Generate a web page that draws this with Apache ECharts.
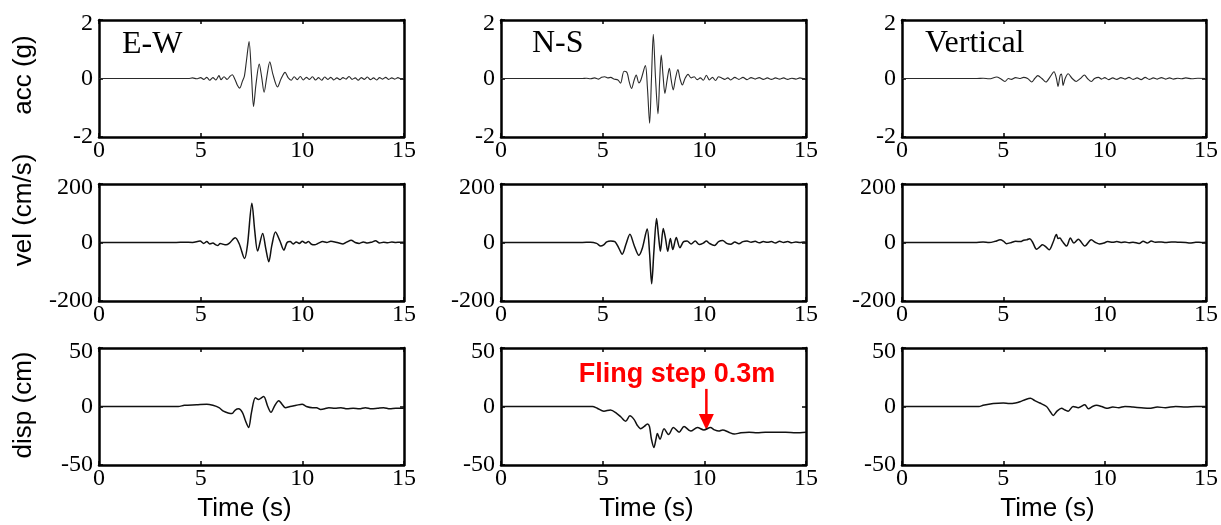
<!DOCTYPE html>
<html>
<head>
<meta charset="utf-8">
<title>Near-fault ground motion records</title>
<script src="https://cdn.jsdelivr.net/npm/echarts@6/dist/echarts.min.js"></script>
<style>
  html, body { margin: 0; padding: 0; background: #fff; }
  #chart { width: 1221px; height: 525px; }
</style>
</head>
<body>
<div id="chart"></div>
<script>
// Time axis ticks shared by every panel (s)
const timeTicks = [0, 5, 10, 15];

// Component names (columns) and quantity names (rows)
const components = ['E-W', 'N-S', 'Vertical'];
const quantities = ['acc (g)', 'vel (cm/s)', 'disp (cm)'];
const yRanges = [[-2, 2], [-200, 200], [-50, 50]];

// Acceleration records, [time (s), acc (g)]
const accEW = [[0,0],[4.4,0],[4.6,0.02],[4.8,-0.01],[5.0,0.03],[5.15,-0.03],[5.3,0.04],[5.45,-0.06],[5.6,0.03],[5.75,-0.05],[5.9,0.1],[6.0,-0.04],[6.15,0.06],[6.3,-0.03],[6.45,0.08],[6.55,0.13],[6.7,-0.05],[6.8,-0.22],[6.92,-0.33],[7.05,-0.1],[7.15,0.08],[7.25,0.6],[7.38,1.26],[7.5,0.1],[7.6,-0.96],[7.72,-0.2],[7.88,0.49],[8.0,0.05],[8.12,-0.47],[8.25,0.05],[8.4,0.57],[8.55,0.15],[8.78,-0.29],[8.95,-0.02],[9.15,0.21],[9.3,0.03],[9.45,-0.06],[9.6,0.06],[9.75,-0.04],[9.9,0.07],[10.05,-0.05],[10.2,0.04],[10.35,-0.03],[10.5,0.06],[10.65,-0.05],[10.8,0.03],[10.95,-0.06],[11.1,0.05],[11.25,-0.03],[11.4,0.04],[11.55,-0.05],[11.7,0.02],[11.85,-0.04],[12.0,0.03],[12.15,-0.02],[12.3,0.07],[12.45,-0.03],[12.6,0.02],[12.75,-0.06],[12.9,0.03],[13.05,-0.03],[13.2,0.05],[13.35,-0.04],[13.5,0.02],[13.65,-0.05],[13.8,0.03],[13.95,-0.02],[14.1,0.04],[14.25,-0.03],[14.4,0.02],[14.55,-0.02],[14.7,0.03],[14.85,-0.01],[15,0.01]];
const accNS = [[0,0],[4.0,0],[4.2,0.01],[4.4,-0.01],[4.6,0.02],[4.8,-0.02],[4.95,0.04],[5.1,0.06],[5.25,0.02],[5.4,0.04],[5.55,-0.02],[5.75,-0.05],[5.88,-0.16],[6.05,0.25],[6.2,0.2],[6.3,-0.1],[6.42,-0.34],[6.55,-0.05],[6.65,0.12],[6.78,-0.15],[6.88,-0.05],[7.1,0.44],[7.2,-0.3],[7.31,-1.53],[7.4,0.0],[7.49,1.51],[7.6,0.0],[7.72,-1.21],[7.8,-0.1],[7.88,0.8],[7.97,0.1],[8.06,-0.51],[8.17,-0.05],[8.28,0.35],[8.37,-0.05],[8.47,-0.39],[8.58,0.0],[8.7,0.31],[8.8,0.0],[8.92,-0.22],[9.05,0.0],[9.2,0.14],[9.35,0.02],[9.5,0.06],[9.65,-0.04],[9.8,0.02],[9.95,-0.06],[10.1,0.11],[10.25,-0.05],[10.4,0.04],[10.55,-0.07],[10.7,0.06],[10.85,0.02],[11.0,-0.03],[11.15,0.02],[11.3,-0.05],[11.5,0.04],[11.7,-0.03],[11.9,0.04],[12.1,-0.04],[12.3,0.03],[12.5,-0.02],[12.7,0.03],[12.9,-0.03],[13.1,0.02],[13.3,-0.03],[13.5,0.02],[13.7,-0.02],[13.9,0.02],[14.1,-0.03],[14.3,0.01],[14.5,-0.02],[14.7,0.02],[14.9,-0.01],[15,0.0]];
const accV = [[0,0],[3.7,0],[4.0,0.01],[4.3,-0.01],[4.67,0.05],[4.85,0.0],[5.08,-0.1],[5.25,0.0],[5.4,-0.03],[5.6,0.03],[5.8,0.0],[6.0,0.04],[6.2,0.0],[6.4,-0.12],[6.55,0.0],[6.7,0.1],[6.9,0.0],[7.1,-0.12],[7.3,0.05],[7.5,0.23],[7.62,0.0],[7.7,-0.27],[7.8,0.1],[7.87,0.15],[7.95,-0.24],[8.05,0.0],[8.2,0.16],[8.4,0.0],[8.6,-0.1],[8.8,0.0],[9.0,0.12],[9.15,0.0],[9.35,-0.1],[9.5,0.0],[9.7,0.04],[9.85,-0.02],[10.0,0.03],[10.2,-0.04],[10.4,0.02],[10.6,-0.03],[10.8,0.03],[11.0,-0.02],[11.2,0.04],[11.4,-0.03],[11.6,0.02],[11.8,-0.04],[12.0,0.04],[12.2,-0.03],[12.4,0.02],[12.6,-0.02],[12.8,0.03],[13.0,-0.02],[13.2,0.02],[13.4,-0.02],[13.6,0.01],[13.8,-0.01],[14.0,0.02],[14.3,-0.01],[14.6,0.01],[15,0]];

// Velocity records, [time (s), vel (cm/s)]
const velEW = [[0,0],[3.8,0],[4.2,1],[4.6,0],[4.97,5],[5.15,-3],[5.3,3],[5.45,-5],[5.6,-2],[5.75,-8],[5.85,-10],[5.96,-3],[6.1,-6],[6.25,-8],[6.4,-3],[6.7,16],[6.9,-5],[7.16,-55],[7.3,-10],[7.52,134],[7.66,40],[7.8,-29],[8.05,31],[8.2,-20],[8.35,-66],[8.5,-10],[8.68,36],[8.9,5],[9.09,-26],[9.25,0],[9.4,3],[9.55,-5],[9.7,2],[9.85,-3],[10.0,4],[10.15,-2],[10.3,3],[10.45,-6],[10.6,-8],[10.8,-2],[11.0,3],[11.2,0],[11.4,4],[11.6,2],[11.8,-2],[12.0,-5],[12.2,2],[12.4,8],[12.6,0],[12.8,-3],[13.0,2],[13.2,-2],[13.4,1],[13.6,6],[13.8,-2],[14.0,1],[14.2,-1],[14.4,2],[14.6,0],[14.8,1],[15,1]];
const velNS = [[0,0],[4.0,0],[4.4,1],[4.7,-3],[4.9,-12],[5.05,-8],[5.2,2],[5.4,5],[5.6,3],[5.8,-20],[5.96,-40],[6.15,-5],[6.34,28],[6.55,-10],[6.78,-44],[6.95,-20],[7.19,46],[7.3,-30],[7.41,-141],[7.52,-30],[7.65,82],[7.75,20],[7.84,-30],[7.98,48],[8.1,10],[8.2,-30],[8.33,14],[8.45,-24],[8.62,17],[8.8,-18],[8.98,3],[9.15,5],[9.35,-5],[9.55,5],[9.75,-7],[9.95,-2],[10.1,5],[10.25,-3],[10.5,-10],[10.7,3],[10.9,7],[11.1,-3],[11.3,-6],[11.5,2],[11.7,-4],[11.9,3],[12.1,5],[12.3,1],[12.5,4],[12.7,-1],[12.9,3],[13.1,1],[13.3,3],[13.5,-2],[13.7,4],[13.9,0],[14.1,3],[14.3,-1],[14.5,2],[14.7,0],[14.9,2],[15,1]];
const velV = [[0,0],[3.6,0],[4.0,2],[4.3,0],[4.6,4],[4.84,9],[5.0,5],[5.16,-4],[5.4,0],[5.6,4],[5.85,3],[6.0,8],[6.15,9],[6.3,13],[6.45,0],[6.64,-23],[6.8,-15],[6.93,-8],[7.1,-15],[7.26,-25],[7.45,0],[7.62,27],[7.7,14],[7.79,15],[7.9,5],[8.12,-12],[8.31,15],[8.48,-2],[8.7,11],[9.02,-12],[9.34,9],[9.55,0],[9.75,-5],[9.95,-2],[10.15,3],[10.4,1],[10.6,3],[10.8,0],[11.0,2],[11.2,-1],[11.4,1],[11.7,-3],[11.9,4],[12.1,-2],[12.3,5],[12.5,1],[12.8,2],[13.0,0],[13.3,2],[13.6,1],[14.0,0],[14.2,-2],[14.5,1],[14.8,0],[15,1]];

// Displacement records, [time (s), disp (cm)]
const dispEW = [[0,0],[3.9,0],[4.2,1],[4.8,1.5],[5.3,2],[5.6,1],[5.9,-1],[6.12,-4],[6.35,-5.5],[6.54,-6],[6.7,-3],[6.87,-2],[7.05,-5],[7.2,-12],[7.36,-18],[7.5,-5],[7.69,7.5],[7.85,6],[7.95,7],[8.1,8.5],[8.3,0],[8.46,-5],[8.65,1],[8.84,5],[9.0,2],[9.17,-1],[9.4,0],[9.7,1],[9.99,2],[10.2,0],[10.5,-1],[10.7,-1],[10.9,-2.5],[11.1,-2],[11.3,-1],[11.6,-1.5],[11.9,-1],[12.2,-2],[12.5,-1.5],[12.8,-2],[13.1,-1],[13.4,-2],[13.7,-1.5],[14.0,-1],[14.3,-2],[14.6,-1.5],[15,-1.5]];
const dispNS = [[0,0],[4.5,0],[4.73,-1.5],[5.06,-4],[5.38,-3],[5.7,-6],[5.9,-9],[6.13,-12.7],[6.34,-8],[6.54,-11],[6.7,-16],[6.87,-19],[7.05,-17],[7.2,-15],[7.3,-17],[7.4,-28],[7.52,-35],[7.62,-28],[7.69,-23],[7.82,-28],[8.02,-19],[8.24,-24],[8.48,-18],[8.76,-22],[9.0,-17],[9.33,-21],[9.66,-18],[9.98,-20],[10.3,-18],[10.5,-20],[10.71,-21],[10.9,-20],[11.2,-22],[11.47,-23.5],[11.8,-22.5],[12.2,-22],[12.6,-22.5],[13.0,-22],[13.5,-22],[14.0,-22],[14.5,-22.5],[15,-22]];
const dispV = [[0,0],[3.8,0],[4.0,1],[4.5,2.5],[5.0,3],[5.3,2.5],[5.6,3],[5.82,4],[6.1,6],[6.34,7],[6.55,5],[6.8,3],[7.13,0],[7.3,-4],[7.46,-7.6],[7.65,-4],[7.87,-1.5],[8.05,-3],[8.2,-4],[8.44,0],[8.7,-1],[9.02,1.5],[9.2,-2],[9.4,0],[9.6,1],[9.85,0],[10.1,-1.5],[10.4,-0.5],[10.7,-1],[11.0,0],[11.4,-0.5],[11.8,-1],[12.2,-1.5],[12.6,-0.5],[13.0,-1],[13.5,0],[14.0,-0.5],[14.5,0],[15,0]];

// Annotated point on the N-S displacement trace: [time (s), disp (cm)]
const flingPoint = [10.1, -20];
const flingLabel = 'Fling step 0.3m';

const records = [
  [accEW, accNS, accV],
  [velEW, velNS, velV],
  [dispEW, dispNS, dispV]
];

// Panel layout (px)
const colLeft = [99, 501, 902];
const rowTop = [20, 184, 348];
const panelW = 305;
const panelH = 117;

const serif = 'Liberation Serif';
const sans = 'Liberation Sans';
const tickFont = 24;
const frame = { show: true, onZero: false, lineStyle: { color: '#000', width: 2.5 } };
const innerTick = { show: true, inside: true, length: 4, lineStyle: { color: '#000', width: 1.5 } };

const grid = [], xAxis = [], yAxis = [], series = [];
for (let r = 0; r < 3; r++) {
  for (let c = 0; c < 3; c++) {
    const g = r * 3 + c;
    grid.push({ left: colLeft[c], top: rowTop[r], width: panelW, height: panelH, containLabel: false });
    const [ymin, ymax] = yRanges[r];
    // bottom time axis with labels, top copy closes the frame
    xAxis.push({
      type: 'value', gridIndex: g, position: 'bottom', min: timeTicks[0], max: timeTicks[timeTicks.length - 1],
      interval: timeTicks[1] - timeTicks[0], axisLine: frame, axisTick: innerTick, splitLine: { show: false },
      axisLabel: { color: '#000', fontFamily: serif, fontSize: tickFont, margin: 2 }
    });
    xAxis.push({
      type: 'value', gridIndex: g, position: 'top', min: timeTicks[0], max: timeTicks[timeTicks.length - 1],
      interval: timeTicks[1] - timeTicks[0], axisLine: frame, axisTick: innerTick, splitLine: { show: false },
      axisLabel: { show: false }
    });
    // the top value label sits a little below the frame corner
    yAxis.push({
      type: 'value', gridIndex: g, position: 'left', min: ymin, max: ymax, interval: ymax,
      axisLine: frame, axisTick: innerTick, splitLine: { show: false },
      axisLabel: {
        color: '#000', fontFamily: serif, fontSize: tickFont, margin: 6,
        formatter: (v) => (v === ymax ? '{hi|' + v + '}' : String(v)),
        rich: { hi: { color: '#000', fontFamily: serif, fontSize: tickFont, padding: [7, 0, 0, 0] } }
      }
    });
    yAxis.push({
      type: 'value', gridIndex: g, position: 'right', min: ymin, max: ymax, interval: ymax,
      axisLine: frame, axisTick: innerTick, splitLine: { show: false },
      axisLabel: { show: false }
    });
    series.push({
      type: 'line', xAxisIndex: 2 * g, yAxisIndex: 2 * g,
      data: records[r][c], showSymbol: false, smooth: 0.3, silent: true,
      lineStyle: { color: r === 0 ? '#2a2a2a' : '#111', width: r === 0 ? 1.1 : 1.5 }
    });
  }
}

const graphic = [];
// component names inside the top row of panels
const compPos = [[122, 45], [532, 44], [925, 44]];
components.forEach((name, c) => {
  graphic.push({ type: 'text', x: compPos[c][0], y: compPos[c][1],
    style: { text: name, font: '32px "' + serif + '"', fill: '#000', align: 'left', verticalAlign: 'middle' } });
});
// quantity names along the left edge
const nameY = [75, 210, 405];
quantities.forEach((name, r) => {
  graphic.push({ type: 'text', x: 24, y: nameY[r], rotation: Math.PI / 2,
    style: { text: name, font: '26px "' + sans + '"', fill: '#000', align: 'center', verticalAlign: 'middle' } });
});
// time axis titles under the bottom row
colLeft.forEach((left) => {
  graphic.push({ type: 'text', x: left + panelW / 2 - 7, y: 509,
    style: { text: 'Time (s)', font: '26px "' + sans + '"', fill: '#000', align: 'center', verticalAlign: 'middle' } });
});

const chart = echarts.init(document.getElementById('chart'), null, { renderer: 'canvas' });
chart.setOption({
  backgroundColor: '#fff',
  animation: false,
  grid, xAxis, yAxis, series, graphic
});

// Red arrow and caption pointing at the permanent offset of the N-S displacement
const nsDisp = 2 * (2 * 3 + 1);
const tip = chart.convertToPixel({ xAxisIndex: nsDisp, yAxisIndex: nsDisp }, flingPoint);
const red = '#ff0000';
graphic.push(
  { type: 'line', shape: { x1: tip[0], y1: tip[1] - 41, x2: tip[0], y2: tip[1] - 14 }, style: { stroke: red, lineWidth: 2.5 } },
  { type: 'polygon', shape: { points: [[tip[0] - 7.5, tip[1] - 16], [tip[0] + 7.5, tip[1] - 16], [tip[0], tip[1]]] }, style: { fill: red } },
  { type: 'text', x: tip[0] + 69, y: tip[1] - 55,
    style: { text: flingLabel, font: 'bold 27px "' + sans + '"', fill: red, align: 'right', verticalAlign: 'middle' } }
);
chart.setOption({ graphic }, { replaceMerge: ['graphic'] });
</script>
</body>
</html>
